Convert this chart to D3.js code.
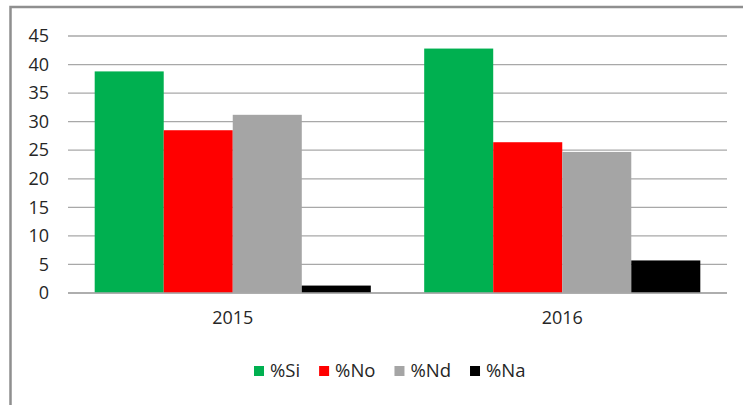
<!DOCTYPE html>
<html>
<head>
<meta charset="utf-8">
<script src="https://cdn.jsdelivr.net/npm/d3@7"></script>
<style>
  html, body { margin: 0; padding: 0; background: #fff; overflow: hidden; }
  text { font-family: "Open Sans", "Liberation Sans", sans-serif; }
</style>
</head>
<body>
<div id="chart"></div>
<script>
const years = ["2015", "2016"];
const seriesNames = ["%Si", "%No", "%Nd", "%Na"];
const seriesColors = ["#00b050", "#ff0000", "#a5a5a5", "#000000"];
const si = [38.8, 42.8];
const no = [28.5, 26.4];
const nd = [31.2, 24.7];
const na = [1.3, 5.7];
const yTicks = [0, 5, 10, 15, 20, 25, 30, 35, 40, 45];

const W = 743, H = 405;
const plot = { left: 68, right: 727, top: 36, bottom: 293 };

const svg = d3.select("#chart").append("svg")
  .attr("width", W)
  .attr("height", H);

// outer chart frame (right/bottom edges fall outside the view)
svg.append("rect")
  .attr("x", 10.5).attr("y", 7)
  .attr("width", 900).attr("height", 600)
  .attr("fill", "none")
  .attr("stroke", "#8f8f8f")
  .attr("stroke-width", 2.5);

const table = years.map((yr, i) => ({
  year: yr,
  values: [si[i], no[i], nd[i], na[i]]
}));

const x0 = d3.scaleBand()
  .domain(years)
  .range([plot.left, plot.right])
  .paddingInner(0.162)
  .paddingOuter(0.081);

const x1 = d3.scaleBand()
  .domain(d3.range(seriesNames.length))
  .range([0, x0.bandwidth()]);

const y = d3.scaleLinear()
  .domain([0, 45])
  .range([plot.bottom, plot.top]);

// gridlines
svg.append("g")
  .selectAll("line")
  .data(yTicks)
  .enter().append("line")
  .attr("x1", plot.left)
  .attr("x2", plot.right)
  .attr("y1", d => y(d))
  .attr("y2", d => y(d))
  .attr("stroke", "#a8a8a8")
  .attr("stroke-width", 1.3);

// y labels
const yAxis = svg.append("g")
  .attr("transform", `translate(${plot.left},0)`)
  .call(d3.axisLeft(y).tickValues(yTicks).tickSize(0).tickPadding(19));
yAxis.select(".domain").remove();
yAxis.selectAll("text")
  .attr("font-size", 18)
  .attr("fill", "#262626");

// bars
const groups = svg.append("g")
  .selectAll("g")
  .data(table)
  .enter().append("g")
  .attr("transform", d => `translate(${x0(d.year)},0)`);

groups.selectAll("rect")
  .data(d => d.values.map((v, k) => ({ k, v })))
  .enter().append("rect")
  .attr("x", d => x1(d.k))
  .attr("y", d => y(d.v))
  .attr("width", x1.bandwidth())
  .attr("height", d => y(0) - y(d.v))
  .attr("fill", d => seriesColors[d.k]);

// x labels
const xAxis = svg.append("g")
  .attr("transform", `translate(0,${plot.bottom})`)
  .call(d3.axisBottom(x0).tickSize(0).tickPadding(18));
xAxis.select(".domain").remove();
xAxis.selectAll("text")
  .attr("font-size", 18)
  .attr("fill", "#262626");

// baseline
svg.append("line")
  .attr("x1", plot.left).attr("x2", plot.right)
  .attr("y1", y(0)).attr("y2", y(0))
  .attr("stroke", "#a8a8a8")
  .attr("stroke-width", 1.5);

// legend
const legend = svg.append("g").attr("transform", "translate(254,371)");
let lx = 0;
seriesNames.forEach((name, k) => {
  const item = legend.append("g").attr("transform", `translate(${lx},0)`);
  item.append("rect")
    .attr("x", 0).attr("y", -5)
    .attr("width", 10).attr("height", 10)
    .attr("fill", seriesColors[k]);
  const t = item.append("text")
    .attr("x", 16)
    .attr("dy", "0.35em")
    .attr("font-size", 18.5)
    .attr("fill", "#262626")
    .text(name);
  lx += 16 + t.node().getComputedTextLength() + 19;
});
</script>
</body>
</html>
